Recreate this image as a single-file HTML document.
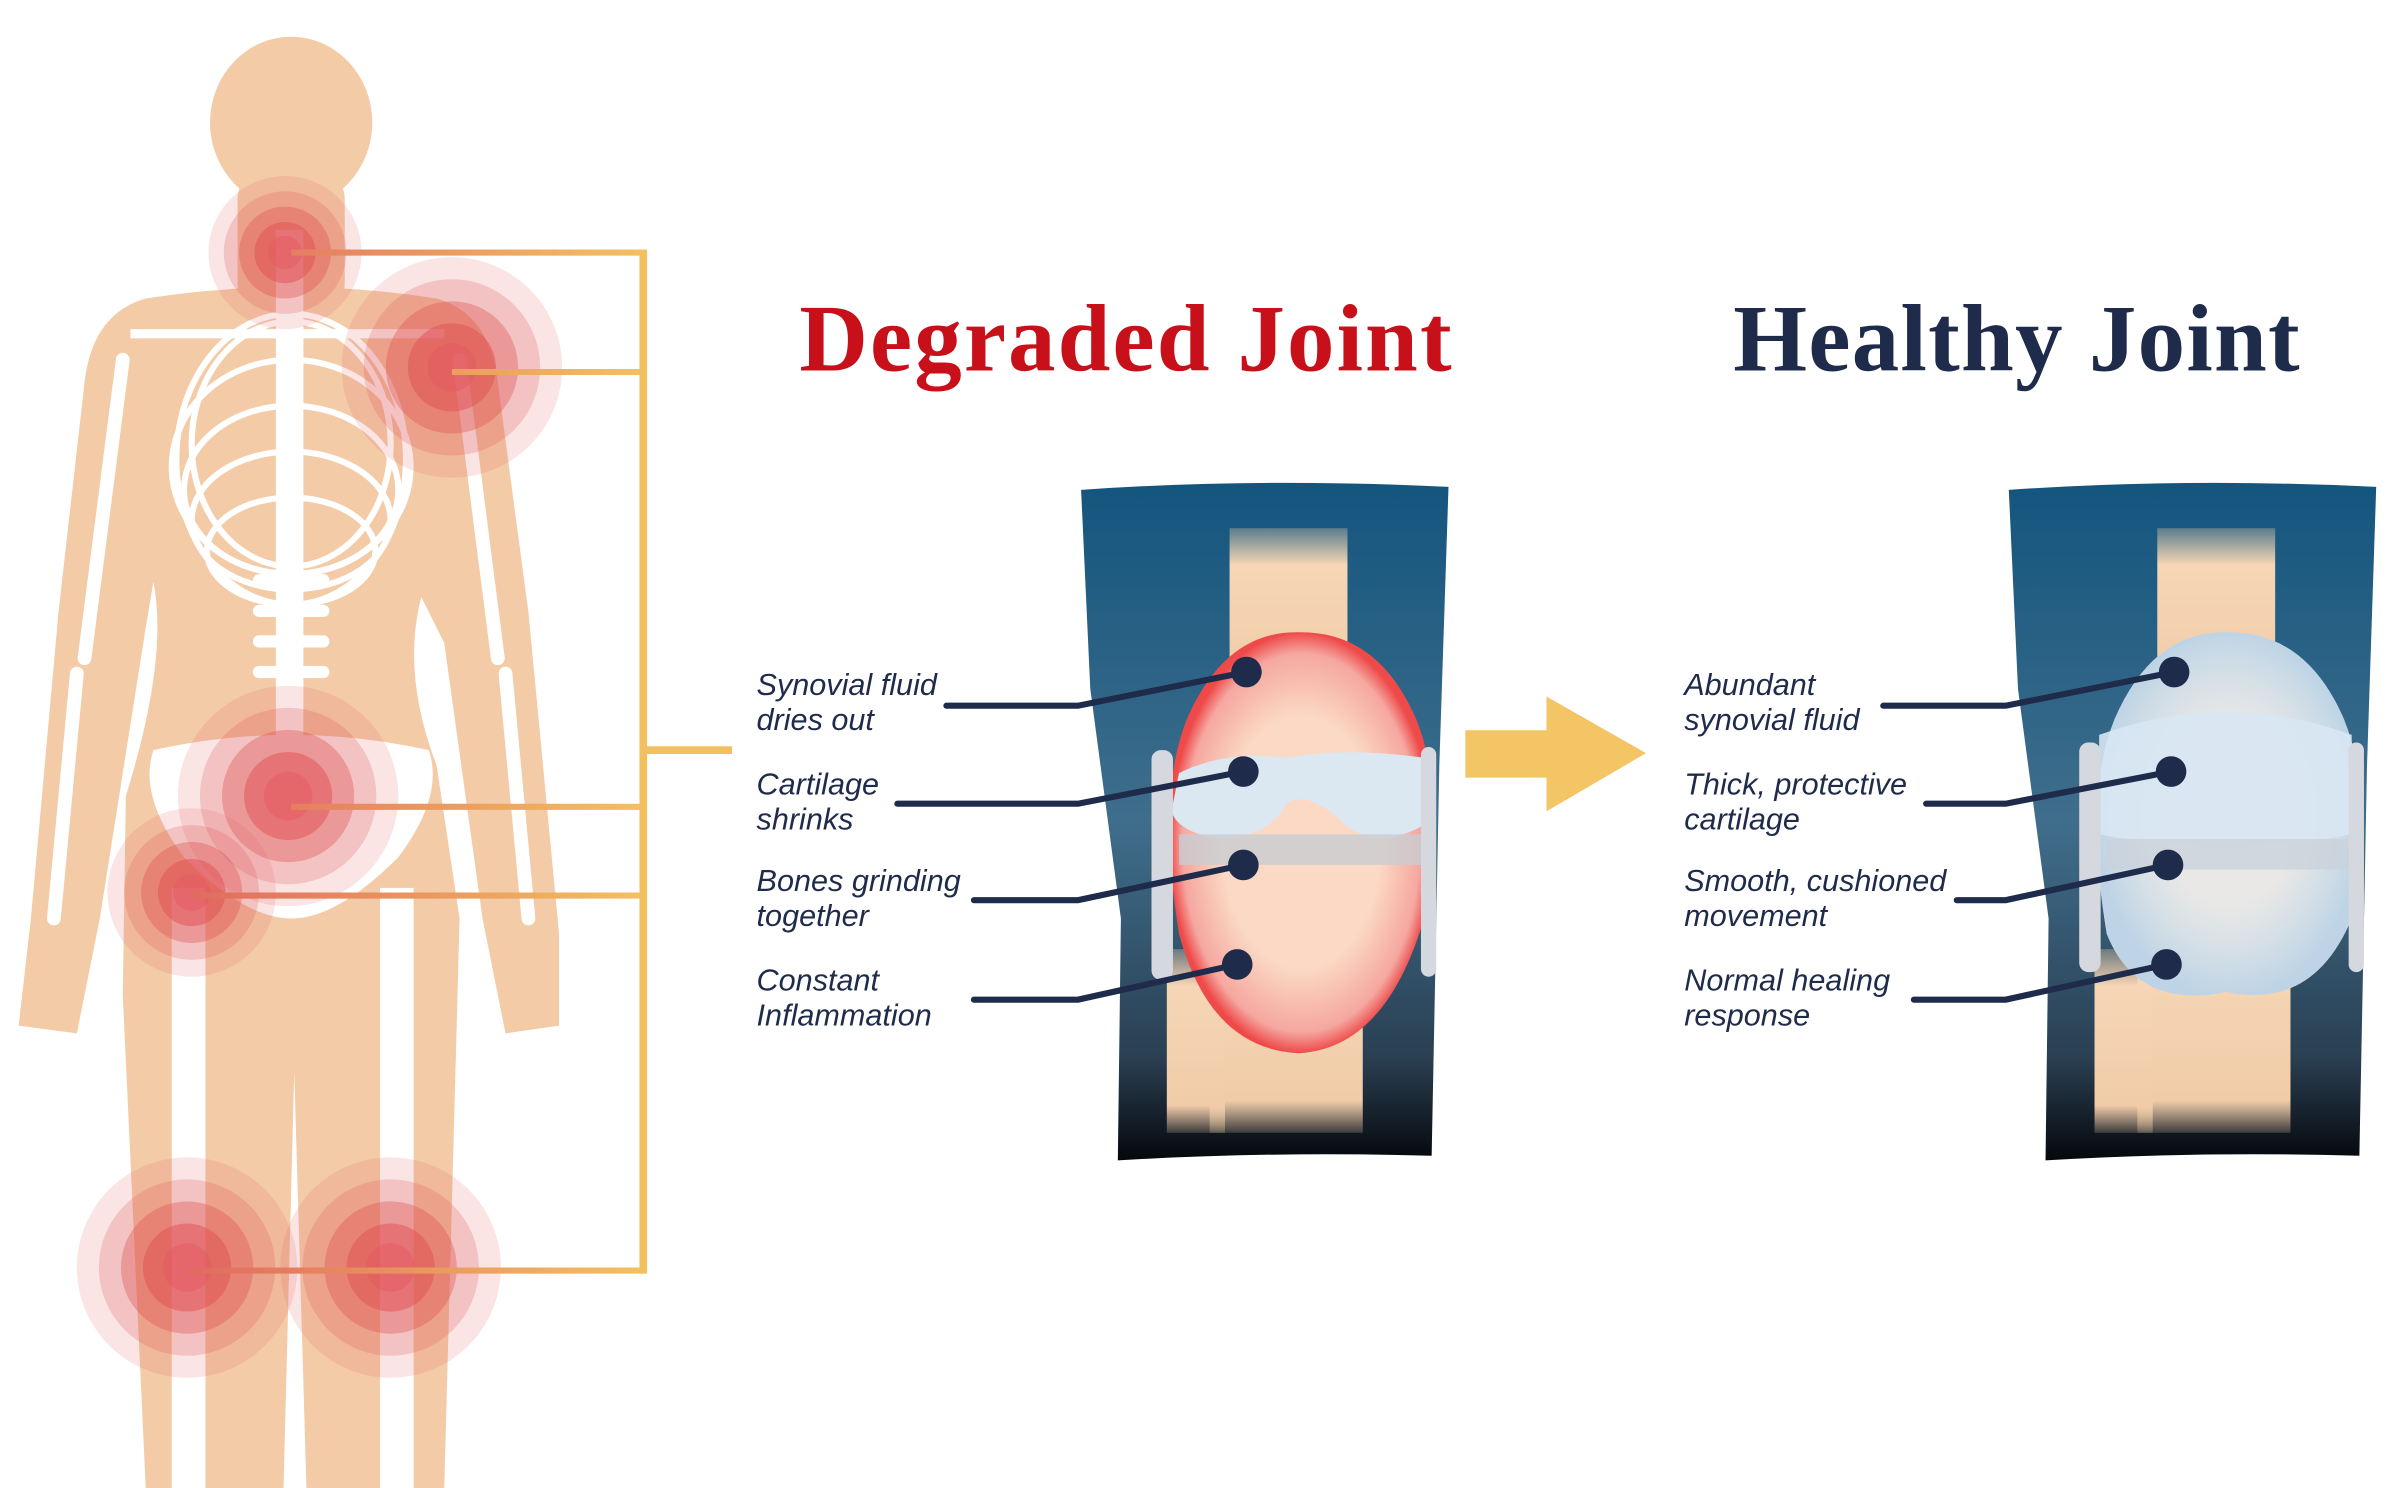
<!DOCTYPE html>
<html><head><meta charset="utf-8"><style>
html,body{margin:0;padding:0;background:#fff;}
svg{display:block}
.lab{font-family:"Liberation Sans",sans-serif;font-style:italic;font-size:20px;fill:#1f2b4a}
</style></head><body>
<svg width="2401" height="1488" viewBox="0 0 1568 972" xmlns="http://www.w3.org/2000/svg">
<defs>
<linearGradient id="panel" x1="0" y1="0" x2="0" y2="1"><stop offset="0" stop-color="#14557e"/><stop offset="0.5" stop-color="#3f6e8c"/><stop offset="0.85" stop-color="#2a3f52"/><stop offset="1" stop-color="#05080c"/></linearGradient>
<linearGradient id="bone" x1="0" y1="0" x2="0" y2="1"><stop offset="0" stop-color="#f3d2b0" stop-opacity="0.3"/><stop offset="0.2" stop-color="#f6d6b6"/><stop offset="0.85" stop-color="#f1cca8"/><stop offset="1" stop-color="#f1cca8" stop-opacity="0.2"/></linearGradient>
<radialGradient id="infl"><stop offset="0.6" stop-color="#fbd9c4"/><stop offset="0.9" stop-color="#f5a7a0"/><stop offset="1" stop-color="#ee4a4a"/></radialGradient>
<radialGradient id="hlth"><stop offset="0.5" stop-color="#e4eef7" stop-opacity="0.7"/><stop offset="1" stop-color="#b8d4ea" stop-opacity="0.9"/></radialGradient>
<linearGradient id="brk" gradientUnits="userSpaceOnUse" x1="120" y1="0" x2="420" y2="0"><stop offset="0" stop-color="#e06a60"/><stop offset="1" stop-color="#f3c060"/></linearGradient>
<g id="pn">
<circle r="1" fill="#e26a6a" opacity="0.18"/>
<circle r="0.8" fill="#e05a5a" opacity="0.25"/>
<circle r="0.6" fill="#dd4a4a" opacity="0.35"/>
<circle r="0.4" fill="#e04a50" opacity="0.45"/>
<circle r="0.22" fill="#e45a60" opacity="0.5"/>
</g>
</defs>

<!-- body -->
<g fill="#f3cba6">
<ellipse cx="190" cy="80" rx="53" ry="56"/>
<rect x="155" y="110" width="70" height="95" rx="20"/>
<path d="M95 195 Q190 180 285 195 Q320 205 325 250 L345 400 L365 610 L365 670 L330 675 L315 600 L290 420 L275 390 Q262 440 285 500 L300 600 L290 972 L200 972 L192 700 L185 972 L95 972 L80 650 L82 520 Q110 430 100 380 L95 410 L65 600 L50 675 L12 670 L20 600 L38 400 L55 250 Q60 205 95 195 Z"/>
</g>
<!-- skeleton -->
<g fill="#fff" stroke="#fff">
<rect x="180" y="150" width="18" height="430" stroke="none"/>
<g fill="none" stroke-width="4">
<ellipse cx="190" cy="300" rx="75" ry="95"/>
<ellipse cx="190" cy="290" rx="65" ry="80"/>
<ellipse cx="190" cy="305" rx="78" ry="70"/>
<ellipse cx="190" cy="320" rx="70" ry="55"/>
<ellipse cx="190" cy="340" rx="65" ry="45"/>
<ellipse cx="190" cy="360" rx="55" ry="35"/>
</g>
<line x1="85" y1="218" x2="290" y2="218" stroke-width="6"/>
<g stroke-width="9" stroke-linecap="round" fill="none">
<line x1="80" y1="235" x2="55" y2="430"/>
<line x1="50" y1="440" x2="35" y2="600"/>
<line x1="300" y1="235" x2="325" y2="430"/>
<line x1="330" y1="440" x2="345" y2="600"/>
</g>
<path d="M100 490 Q190 470 280 490 Q290 520 260 560 Q220 600 190 600 Q160 600 120 560 Q90 520 100 490 Z" stroke="none"/>
<rect x="112" y="580" width="22" height="392" stroke="none"/>
<rect x="248" y="580" width="22" height="392" stroke="none"/>
<g stroke="none"><rect x="165" y="375" width="50" height="8" rx="4"/><rect x="165" y="395" width="50" height="8" rx="4"/><rect x="165" y="415" width="50" height="8" rx="4"/><rect x="165" y="435" width="50" height="8" rx="4"/></g>
</g>
<!-- pain circles -->
<use href="#pn" transform="translate(186,165) scale(50)"/>
<use href="#pn" transform="translate(295,240) scale(72)"/>
<use href="#pn" transform="translate(188,520) scale(72)"/>
<use href="#pn" transform="translate(125,583) scale(55)"/>
<use href="#pn" transform="translate(122,828) scale(72)"/>
<use href="#pn" transform="translate(255,828) scale(72)"/>
<!-- bracket -->
<g stroke="url(#brk)" stroke-width="4" fill="none">
<line x1="190" y1="165" x2="420" y2="165"/>
<line x1="295" y1="243" x2="420" y2="243"/>
<line x1="190" y1="527" x2="420" y2="527"/>
<line x1="125" y1="585" x2="420" y2="585"/>
<line x1="122" y1="830" x2="420" y2="830"/>
</g>
<line x1="420" y1="163" x2="420" y2="832" stroke="#f3c060" stroke-width="5"/>
<line x1="420" y1="490" x2="478" y2="490" stroke="#f3c060" stroke-width="5"/>

<!-- titles -->
<text x="735" y="242" text-anchor="middle" font-family="Liberation Serif,serif" font-weight="bold" font-size="62" fill="#c8101a" textLength="426">Degraded Joint</text>
<text x="1317" y="242" text-anchor="middle" font-family="Liberation Serif,serif" font-weight="bold" font-size="62" fill="#1f2b4a" textLength="370">Healthy Joint</text>

<!-- degraded knee -->
<g>
<path d="M706 320 Q820 312 946 318 L940 500 L935 755 Q830 752 730 758 L732 600 L712 450 Z" fill="url(#panel)"/>
<rect x="803" y="345" width="77" height="120" fill="url(#bone)"/>
<rect x="790" y="600" width="100" height="140" fill="url(#bone)"/>
<rect x="762" y="620" width="38" height="120" fill="url(#bone)"/>
<path d="M848 413 Q900 412 925 470 Q945 520 930 600 Q905 685 848 688 Q790 685 770 610 Q755 520 775 470 Q800 412 848 413 Z" fill="url(#infl)"/>
<path d="M770 505 Q800 490 840 495 Q880 488 930 495 L928 540 Q900 555 880 540 Q855 515 840 525 Q830 545 800 548 Q770 545 765 530 Z" fill="#dbe8f1"/>
<rect x="770" y="545" width="160" height="20" fill="#c9ccd2" opacity="0.8"/>
<rect x="752" y="490" width="14" height="150" rx="6" fill="#d5d8de"/>
<rect x="928" y="488" width="10" height="150" rx="5" fill="#d5d8de"/>
</g>
<!-- healthy knee -->
<g transform="translate(606,0)">
<path d="M706 320 Q820 312 946 318 L940 500 L935 755 Q830 752 730 758 L732 600 L712 450 Z" fill="url(#panel)"/>
<rect x="803" y="345" width="77" height="120" fill="url(#bone)"/>
<rect x="790" y="600" width="100" height="140" fill="url(#bone)"/>
<rect x="762" y="620" width="38" height="120" fill="url(#bone)"/>
<path d="M848 413 Q900 412 925 470 Q945 520 930 600 Q905 660 848 648 Q790 660 770 610 Q755 520 775 470 Q800 412 848 413 Z" fill="#f4d9bf"/>
<path d="M848 413 Q900 412 925 470 Q945 520 930 600 Q905 660 848 648 Q790 660 770 610 Q755 520 775 470 Q800 412 848 413 Z" fill="url(#hlth)"/>
<path d="M765 480 Q848 450 930 480 L930 545 Q848 560 765 545 Z" fill="#d8e7f3" opacity="0.9"/>
<rect x="770" y="548" width="160" height="20" fill="#c9d2dc" opacity="0.8"/>
<rect x="752" y="485" width="14" height="150" rx="6" fill="#d5d8de"/>
<rect x="928" y="485" width="10" height="150" rx="5" fill="#d5d8de"/>
</g>

<!-- arrow -->
<path d="M957 477 L1010 477 L1010 455 L1075 492 L1010 530 L1010 508 L957 508 Z" fill="#f3c565"/>

<!-- labels -->
<g>
<text x="494" y="454" class="lab">Synovial fluid</text><text x="494" y="477" class="lab">dries out</text>
<text x="494" y="519" class="lab">Cartilage</text><text x="494" y="542" class="lab">shrinks</text>
<text x="494" y="582" class="lab">Bones grinding</text><text x="494" y="605" class="lab">together</text>
<text x="494" y="647" class="lab">Constant</text><text x="494" y="670" class="lab">Inflammation</text>
<text x="1100" y="454" class="lab">Abundant</text><text x="1100" y="477" class="lab">synovial fluid</text>
<text x="1100" y="519" class="lab">Thick, protective</text><text x="1100" y="542" class="lab">cartilage</text>
<text x="1100" y="582" class="lab">Smooth, cushioned</text><text x="1100" y="605" class="lab">movement</text>
<text x="1100" y="647" class="lab">Normal healing</text><text x="1100" y="670" class="lab">response</text>
</g>
<g stroke="#1f2b4a" stroke-width="4" fill="none" stroke-linecap="round">
<polyline points="618,461 704,461 814,439"/>
<polyline points="586,525 704,525 812,504"/>
<polyline points="636,588 704,588 812,565"/>
<polyline points="636,653 704,653 808,630"/>
<polyline points="1230,461 1310,461 1420,439"/>
<polyline points="1258,525 1310,525 1418,504"/>
<polyline points="1278,588 1310,588 1416,565"/>
<polyline points="1250,653 1310,653 1415,630"/>
</g>
<g fill="#1f2b4a">
<circle cx="814" cy="439" r="10"/><circle cx="812" cy="504" r="10"/><circle cx="812" cy="565" r="10"/><circle cx="808" cy="630" r="10"/>
<circle cx="1420" cy="439" r="10"/><circle cx="1418" cy="504" r="10"/><circle cx="1416" cy="565" r="10"/><circle cx="1415" cy="630" r="10"/>
</g>
</svg>
</body></html>
